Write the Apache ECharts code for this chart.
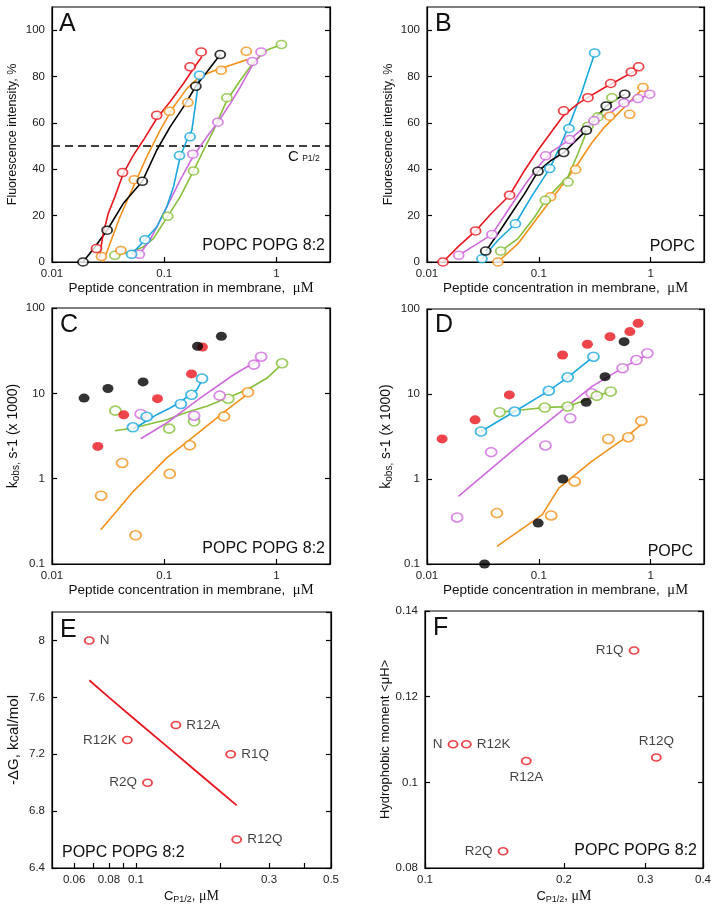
<!DOCTYPE html>
<html><head><meta charset="utf-8">
<script src="https://cdn.jsdelivr.net/npm/echarts@6/dist/echarts.min.js"></script>
<style>html,body{margin:0;padding:0;background:#fff}#c{width:717px;height:905px}</style>
</head><body><div id="c"></div>
<script>
// ---------- Panel A (POPC/POPG 8:2, fluorescence) ----------
const aRedPts = [[0.0249,5.8],[0.0425,38.6],[0.0857,63.3],[0.170,84.2],[0.2135,90.6]];
const aRedLine = [[0.0263,1.4],[0.0286,12.2],[0.0317,20.9],[0.0363,28.1],[0.0431,38.1],[0.053,46.0],[0.0651,52.5],[0.0857,61.9],[0.1128,69.1],[0.1484,77.0],[0.1823,83.5],[0.2164,88.5]];
const aBlkPts = [[0.0189,0],[0.031,13.7],[0.0638,34.8],[0.1913,75.8],[0.3157,89.5]];
const aBlkLine = [[0.0189,0],[0.0241,6.5],[0.031,13.7],[0.0431,25.2],[0.0638,34.8],[0.0857,48.2],[0.1128,58.3],[0.1484,66.9],[0.1913,75.8],[0.24,82.0],[0.3157,89.5]];
const aOrgPts = [[0.0276,2.4],[0.0411,5.0],[0.0541,35.5],[0.1112,65.0],[0.1622,68.8],[0.322,82.7],[0.539,90.9]];
const aOrgLine = [[0.0286,0],[0.0328,7.9],[0.0403,19.4],[0.053,32.4],[0.0697,45.3],[0.0918,56.8],[0.1208,66.9],[0.1589,74.8],[0.209,80.1],[0.275,82.4],[0.388,84.9],[0.547,87.3]];
const aCynPts = [[0.0512,3.3],[0.0674,9.6],[0.1367,45.9],[0.170,54.0],[0.2063,80.6]];
const aCynLine = [[0.0512,3.3],[0.0674,9.6],[0.0857,15.1],[0.1052,23.7],[0.1208,32.4],[0.1386,45.3],[0.1589,52.5],[0.1762,56.8],[0.1887,66.9],[0.1993,75.5],[0.2063,80.6]];
const aMagPts = [[0.060,3.3],[0.1798,46.5],[0.3008,60.3],[0.610,86.5],[0.729,90.6]];
const aMagLine = [[0.060,3.3],[0.0747,9.4],[0.0918,18.0],[0.1128,26.6],[0.1386,35.3],[0.1798,45.3],[0.24,54.0],[0.3008,60.3],[0.388,68.3],[0.4765,75.5],[0.61,84.9],[0.695,88.5]];
const aGrnPts = [[0.0363,2.9],[0.1074,19.7],[0.1823,39.3],[0.362,70.9],[1.109,93.8]];
const aGrnLine = [[0.0363,2.9],[0.0495,4.3],[0.0651,6.5],[0.08,10.1],[0.1074,19.7],[0.1386,28.1],[0.1823,39.3],[0.224,48.2],[0.275,56.8],[0.362,69.8],[0.4765,78.4],[0.627,86.3],[0.825,91.4],[1.109,93.8]];
const aHalfLevel = 50;

// ---------- Panel B (POPC, fluorescence) ----------
const bRedPts = [[0.0139,0],[0.0272,13.4],[0.0548,28.8],[0.1667,65.2],[0.275,70.9],[0.439,77.0],[0.672,82.0],[0.781,84.2]];
const bRedLine = [[0.0139,0],[0.0189,6.5],[0.0272,13.4],[0.0376,20.9],[0.0548,28.8],[0.0747,39.6],[0.0983,48.2],[0.1294,56.1],[0.1667,63.3],[0.224,68.3],[0.2946,71.9],[0.388,75.3],[0.5105,78.4],[0.672,81.6],[0.781,83.5]];
const bMagPts = [[0.0192,2.9],[0.0381,11.9],[0.1151,45.8],[0.1888,52.8],[0.311,60.9],[0.578,68.6],[0.771,70.5],[0.98,72.4]];
const bMagLine = [[0.0192,2.9],[0.0267,7.2],[0.0381,11.9],[0.053,22.3],[0.0747,33.1],[0.0983,41.0],[0.1294,47.5],[0.1888,52.8],[0.257,58.3],[0.338,61.9],[0.445,64.7],[0.578,68.6],[0.771,70.4],[0.98,72.2]];
const bBlkPts = [[0.0335,4.7],[0.0983,39.1],[0.1667,47.2],[0.266,56.8],[0.401,67.3],[0.586,72.4]];
const bBlkLine = [[0.0335,4.7],[0.0431,12.2],[0.0568,20.9],[0.0747,29.5],[0.0983,39.1],[0.1294,43.9],[0.1667,47.2],[0.209,51.8],[0.266,56.8],[0.3266,62.6],[0.401,67.3],[0.4765,69.8],[0.586,72.4]];
const bCynPts = [[0.031,1.4],[0.0617,16.5],[0.125,40.3],[0.186,57.6],[0.3157,90.2]];
const bCynLine = [[0.031,1.4],[0.0431,9.4],[0.0617,16.5],[0.0857,28.1],[0.125,40.3],[0.1589,51.1],[0.195,61.2],[0.24,72.7],[0.275,81.3],[0.3157,89.9]];
const bGrnPts = [[0.0456,4.7],[0.1143,26.6],[0.1823,34.5],[0.275,58.6],[0.338,62.6],[0.451,70.9]];
const bGrnLine = [[0.0456,4.7],[0.0651,10.1],[0.0918,19.4],[0.1143,26.6],[0.1484,32.4],[0.1823,36.7],[0.224,46.8],[0.275,57.6],[0.338,62.6],[0.451,69.8]];
const bOrgPts = [[0.0431,0],[0.1276,28.1],[0.2135,39.9],[0.43,62.9],[0.649,63.7],[0.854,75.3]];
const bOrgLine = [[0.0431,0],[0.0651,7.9],[0.0983,19.4],[0.1276,26.6],[0.170,34.5],[0.224,42.4],[0.2946,51.1],[0.388,58.3],[0.5105,64.0],[0.672,69.8],[0.854,74.8]];

// ---------- Panel C (POPC/POPG 8:2, kobs) ----------
const cBlkFill = [[0.0193,8.8],[0.0315,11.4],[0.0648,13.6],[0.198,35.6],[0.323,46.6]];
const cRedFill = [[0.0256,2.39],[0.0436,5.6],[0.0871,8.66],[0.175,16.9],[0.219,34.9]];
const cCynPts = [[0.0526,4.0],[0.0698,5.33],[0.1405,7.5],[0.175,9.6],[0.217,14.9]];
const cCynLine = [[0.0519,3.75],[0.0651,4.49],[0.0857,5.62],[0.1128,6.73],[0.1386,7.9],[0.170,9.64],[0.195,11.0],[0.2164,14.1]];
const cMagPts = [[0.0617,5.73],[0.1846,5.47],[0.312,9.4],[0.63,21.7],[0.73,26.9]];
const cMagLine = [[0.0617,2.94],[0.1052,4.49],[0.209,8.8],[0.415,16.5],[0.745,25.9]];
const cGrnPts = [[0.0367,6.27],[0.1107,3.86],[0.1846,4.7],[0.372,8.66],[1.122,22.5]];
const cGrnLine = [[0.0363,3.65],[0.053,3.93],[0.1052,4.9],[0.1589,6.0],[0.24,7.05],[0.362,8.8],[0.547,11.0],[0.825,15.1],[1.124,22.1]];
const cOrgPts = [[0.0274,0.632],[0.0422,1.53],[0.0556,0.217],[0.112,1.14],[0.169,2.46],[0.341,5.37],[0.557,10.3]];
const cOrgLine = [[0.0272,0.252],[0.0376,0.414],[0.053,0.711],[0.0747,1.11],[0.1052,1.75],[0.1484,2.5],[0.209,3.59],[0.2946,5.14],[0.415,7.37],[0.554,9.8]];

// ---------- Panel D (POPC, kobs) ----------
const dRedFill = [[0.01365,2.96],[0.0269,4.97],[0.0545,9.75],[0.163,28.8],[0.272,38.5],[0.433,47.3],[0.652,54.2],[0.773,68]];
const dBlkFill = [[0.0327,0.1],[0.0987,0.303],[0.164,1.0],[0.265,8.0],[0.391,16.0],[0.579,41.3]];
const dCynPts = [[0.0304,3.62],[0.0608,6.22],[0.1227,10.9],[0.181,15.7],[0.308,27.5]];
const dGrnPts = [[0.0446,6.11],[0.113,6.93],[0.181,7.11],[0.33,9.5],[0.439,10.7]];
const dMagPts = [[0.0186,0.353],[0.0375,2.07],[0.1146,2.48],[0.191,5.19],[0.297,10.2],[0.561,20.1],[0.746,25.1],[0.934,30.1]];
const dMagLine = [[0.0191,0.624],[0.038,1.34],[0.0759,2.89],[0.151,5.94],[0.297,12.2],[0.587,21.0],[0.934,28.8]];
const dOrgPts = [[0.0422,0.397],[0.129,0.373],[0.209,0.935],[0.418,2.96],[0.631,3.1],[0.826,4.83]];
const dOrgLine = [[0.0422,0.161],[0.107,0.379],[0.151,0.782],[0.297,1.61],[0.587,3.02],[0.855,4.54]];

// ---------- Panel E (-dG vs CP1/2) ----------
const eNames = ['N','R12K','R2Q','R12A','R1Q','R12Q'];
const eCp = [0.068,0.0931,0.110,0.139,0.2185,0.2296];
const eDG = [8.0,7.30,7.0,7.405,7.2,6.6];
const eFitLine = [[0.068,7.72],[0.08,7.60],[0.097,7.46],[0.13,7.25],[0.16,7.10],[0.2,6.94],[0.2296,6.84]];
const eXLabels = [0.06,0.08,0.1,0.3,0.5];
const eXTicks = [0.06,0.07,0.08,0.09,0.1,0.2,0.3,0.4,0.5];

// ---------- Panel F (hydrophobic moment vs CP1/2) ----------
const fNames = ['N','R12K','R12A','R2Q','R1Q','R12Q'];
const fCp = [0.115,0.1229,0.1657,0.1476,0.2836,0.3169];
const fMu = [0.1089,0.1089,0.105,0.0839,0.1308,0.1058];
const fXLabels = [0.1,0.2,0.3,0.4];

// ---------- styling ----------
const FONT = 'Liberation Sans, Arial, sans-serif';
const SERIF = 'Liberation Serif, Times New Roman, serif';
const RED='#e8161e', BLK='#000000', ORG='#f39019', CYN='#1aa7e0', MAG='#cf6ade', GRN='#86bf3a';

const grids = [
  {left:52, top:7, width:278, height:255},
  {left:427, top:7, width:277, height:255},
  {left:52, top:308, width:278, height:256},
  {left:427, top:309, width:277, height:255},
  {left:52, top:612, width:279, height:256},
  {left:425, top:611, width:278, height:257}
].map(g => Object.assign({show:true, borderColor:'#000', borderWidth:1.2, backgroundColor:'transparent'}, g));

const fmtNum = v => String(+(+v).toPrecision(6));
const lblStyle = {color:'#222', fontSize:11.5, fontFamily:FONT, formatter:fmtNum};
const axLine = {show:true, lineStyle:{color:'#000', width:1.2}};
const axTick = {show:true, inside:true, length:5, lineStyle:{color:'#000', width:1.2}};
function nameStyle(size) {
  return {color:'#111', fontSize:size, fontFamily:FONT,
    rich:{mu:{fontFamily:SERIF, fontSize:size+1, color:'#111'},
          sub:{fontSize:Math.round(size*0.7), fontFamily:FONT, color:'#111', verticalAlign:'bottom', padding:[6,0,0,0]},
          c:{fontSize:size, fontFamily:FONT, color:'#111'}}};
}

const concName = 'Peptide concentration in membrane,  {mu|μM}';
const cpName = '{c|C}{sub|P1/2}{c|, }{mu|μM}';
const kName = 'k{sub|obs,} s-1 (x 1000)';

function xAx(gi, type, min, max, name, gap, size, extra) {
  return Object.assign({gridIndex:gi, type, min, max, axisLine:axLine, axisTick:axTick,
    axisLabel:Object.assign({}, lblStyle, {showMaxLabel:false, margin:6}), splitLine:{show:false}, minorTick:{show:false},
    name, nameLocation:'middle', nameGap:gap, nameTextStyle:nameStyle(size)}, extra||{});
}
function yAx(gi, type, min, max, name, gap, size, extra) {
  return Object.assign({gridIndex:gi, type, min, max, position:'left', axisLine:axLine, axisTick:axTick,
    axisLabel:Object.assign({}, lblStyle, {showMaxLabel:false, margin:7}), splitLine:{show:false},
    name, nameLocation:'middle', nameGap:gap, nameRotate:90, nameTextStyle:nameStyle(size)}, extra||{});
}
function yAxR(gi, type, min, max, extra) {
  return Object.assign({gridIndex:gi, type, min, max, position:'right', axisLine:axLine, axisTick:axTick,
    axisLabel:{show:false}, splitLine:{show:false}}, extra||{});
}

const xAxes = [
  xAx(0,'log',0.01,3,concName,19,13.5),
  xAx(1,'log',0.01,3,concName,19,13.5),
  xAx(2,'log',0.01,3,concName,19,13.5),
  xAx(3,'log',0.01,3,concName,19,13.5),
  xAx(4,'log',0.05,0.5,cpName,21,13,{axisLabel:Object.assign({}, lblStyle, {customValues:eXLabels, margin:6}), axisTick:Object.assign({}, axTick, {customValues:eXTicks})}),
  xAx(5,'log',0.1,0.4,cpName,21,13,{axisLabel:Object.assign({}, lblStyle, {customValues:fXLabels, margin:6}), axisTick:Object.assign({}, axTick, {customValues:fXLabels})})
];
const yAxes = [
  yAx(0,'value',0,110,'Fluorescence intensity, %',33,12.5,{interval:20}),
  yAx(1,'value',0,110,'Fluorescence intensity, %',32,12.5,{interval:20}),
  yAx(2,'log',0.1,100,kName,31,14,{axisLabel:Object.assign({}, lblStyle, {margin:7})}),
  yAx(3,'log',0.1,100,kName,33,14,{axisLabel:Object.assign({}, lblStyle, {margin:7})}),
  yAx(4,'value',6.4,8.2,'-ΔG, kcal/mol',31,15,{interval:0.4}),
  yAx(5,'value',0.08,0.14,'Hydrophobic moment <μH>',32,13,{interval:0.02, axisLabel:Object.assign({}, lblStyle, {margin:7})}),
  yAxR(0,'value',0,110,{interval:20}),
  yAxR(1,'value',0,110,{interval:20}),
  yAxR(2,'log',0.1,100),
  yAxR(3,'log',0.1,100),
  yAxR(4,'value',6.4,8.2,{interval:0.4}),
  yAxR(5,'value',0.08,0.14,{interval:0.02})
];

const series = [];
function line(gi, data, color, extra) {
  series.push(Object.assign({type:'line', xAxisIndex:gi, yAxisIndex:gi, data, showSymbol:false, symbol:'none',
    lineStyle:{color, width:1.6}, silent:true, z:2, animation:false}, extra||{}));
}
function open(gi, data, color, size) {
  series.push({type:'scatter', xAxisIndex:gi, yAxisIndex:gi, data, symbol:'circle', symbolSize:size||[10,8],
    itemStyle:{color:'#fff', borderColor:color, borderWidth:1.7}, z:4, animation:false});
}
function filled(gi, data, color) {
  series.push({type:'scatter', xAxisIndex:gi, yAxisIndex:gi, data, symbol:'circle', symbolSize:[11,9],
    itemStyle:{color, borderColor:color, borderWidth:0}, z:5, animation:false});
}

// A
line(0, [[0.01,aHalfLevel],[3,aHalfLevel]], '#000', {lineStyle:{color:'#000', width:1.5, type:[8,5]}});
line(0, aGrnLine, GRN); line(0, aMagLine, MAG); line(0, aCynLine, CYN); line(0, aOrgLine, ORG); line(0, aBlkLine, BLK); line(0, aRedLine, RED);
open(0, aGrnPts, GRN); open(0, aMagPts, MAG); open(0, aCynPts, CYN); open(0, aOrgPts, ORG); open(0, aRedPts, RED); open(0, aBlkPts, BLK);
// B
line(1, bOrgLine, ORG); line(1, bGrnLine, GRN); line(1, bCynLine, CYN); line(1, bBlkLine, BLK); line(1, bMagLine, MAG); line(1, bRedLine, RED);
open(1, bOrgPts, ORG); open(1, bGrnPts, GRN); open(1, bCynPts, CYN); open(1, bBlkPts, BLK); open(1, bMagPts, MAG); open(1, bRedPts, RED);
// C
line(2, cOrgLine, ORG); line(2, cGrnLine, GRN); line(2, cMagLine, MAG); line(2, cCynLine, CYN);
open(2, cOrgPts, ORG, [11,9]); open(2, cGrnPts, GRN, [11,9]); open(2, cMagPts, MAG, [11,9]); open(2, cCynPts, CYN, [11,9]);
filled(2, cRedFill, RED); filled(2, cBlkFill, BLK);
// D
line(3, dOrgLine, ORG); line(3, dMagLine, MAG); line(3, dGrnPts, GRN); line(3, dCynPts, CYN);
open(3, dOrgPts, ORG, [11,9]); open(3, dMagPts, MAG, [11,9]); open(3, dGrnPts, GRN, [11,9]); open(3, dCynPts, CYN, [11,9]);
filled(3, dRedFill, RED); filled(3, dBlkFill, BLK);
// E
line(4, eFitLine, RED, {lineStyle:{color:RED, width:1.8}});
const ePos = {N:'right', R12K:'left', R2Q:'left', R12A:'right', R1Q:'right', R12Q:'right'};
series.push({type:'scatter', xAxisIndex:4, yAxisIndex:4, symbol:'circle', symbolSize:[9,7], animation:false,
  itemStyle:{color:'#fff', borderColor:RED, borderWidth:1.7},
  data: eNames.map((n,i)=>({name:n, value:[eCp[i], eDG[i]], label:{position:ePos[n]}})),
  label:{show:true, formatter:'{b}', color:'#111', fontSize:13.5, fontFamily:FONT, distance:5}});
// F
const fPos = {N:'left', R12K:'right', R12A:'bottom', R2Q:'left', R1Q:'left', R12Q:'top'};
series.push({type:'scatter', xAxisIndex:5, yAxisIndex:5, symbol:'circle', symbolSize:[9,7], animation:false,
  itemStyle:{color:'#fff', borderColor:RED, borderWidth:1.7},
  data: fNames.map((n,i)=>({name:n, value:[fCp[i], fMu[i]], label:{position:fPos[n]}})),
  label:{show:true, formatter:'{b}', color:'#111', fontSize:13.5, fontFamily:FONT, distance:5}});

function txt(text, x, y, size, align) {
  return {type:'text', x, y, z:10, style:{text, fill:'#111', font:size+'px '+FONT, textAlign:align||'left', textVerticalAlign:'middle'}};
}
const graphics = [
  txt('A',59,24,25), txt('B',435,24,25), txt('C',60,325.5,25), txt('D',435,325,25), txt('E',60,630,25), txt('F',433,628,25),
  txt('POPC POPG 8:2',325,246,16,'right'), txt('POPC',695,247,16,'right'),
  txt('POPC POPG 8:2',325,549,16,'right'), txt('POPC',693,551.5,16,'right'),
  txt('POPC POPG 8:2',62,853,16,'left'), txt('POPC POPG 8:2',697,851,16,'right'),
  {type:'text', x:288, y:157, z:10, style:{text:'{c|C} {s|P1/2}', textVerticalAlign:'middle', fill:'#111',
    rich:{c:{fontSize:15, fontFamily:FONT, fill:'#111'}, s:{fontSize:8.5, fontFamily:FONT, fill:'#111', padding:[4,0,0,0]}}}}
];

const chart = echarts.init(document.getElementById('c'), null, {renderer:'canvas'});
chart.setOption({animation:false, backgroundColor:'#fff', grid:grids, xAxis:xAxes, yAxis:yAxes, series, graphic:graphics});
</script></body></html>
